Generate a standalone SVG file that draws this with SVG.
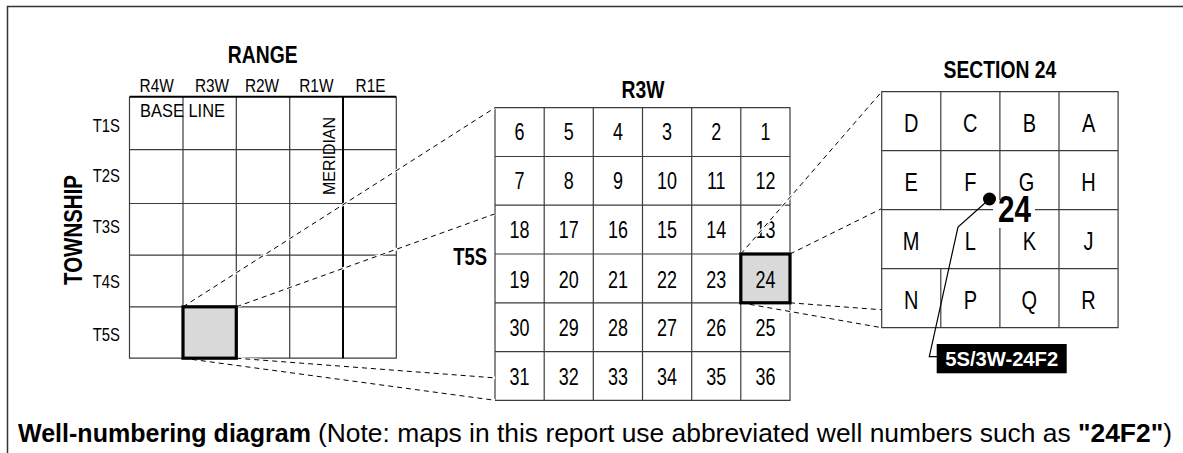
<svg xmlns="http://www.w3.org/2000/svg" width="1183" height="453" viewBox="0 0 1183 453">
  <style>
    text { font-family: "Liberation Sans", Arial, sans-serif; fill: #000; }
    /* condensed look: each label is narrowed about its own anchor */
    .cc { transform-box: fill-box; transform-origin: center; }
    .cr { transform-box: fill-box; transform-origin: right center; }
    .hd { font-size: 23px; font-weight: bold; text-anchor: middle; transform: scaleX(0.84); }
    .rl { font-size: 17.5px; text-anchor: middle; transform: scaleX(0.88); }
    .tl { font-size: 17.5px; text-anchor: end; transform: scaleX(0.85); }
    .num { font-size: 23px; text-anchor: middle; transform: scaleX(0.78); }
    .let { font-size: 25px; text-anchor: middle; transform: scaleX(0.8); }
    .cap { font-size: 25px; }
    .grid { stroke: #3c3c3c; stroke-width: 1.2; fill: none; }
    .heavy { stroke: #000; stroke-width: 2; fill: none; }
    .sel { fill: #d9d9d9; stroke: #000; stroke-width: 3.2; }
    .dash { stroke: #000; stroke-width: 1; stroke-dasharray: 5 4; fill: none; }
    .halo { stroke: #fff; stroke-width: 2.6; fill: none; }
  </style>

  <!-- page frame -->
  <path d="M7.5,453 V6.5 H1183" fill="none" stroke="#333" stroke-width="1.5"/>

  <!-- township / range grid -->
  <g id="township-grid">
    <text class="hd cc" x="262.7" y="63">RANGE</text>
    <text class="rl cc" x="156.7" y="91.7">R4W</text>
    <text class="rl cc" x="212" y="91.7">R3W</text>
    <text class="rl cc" x="262" y="91.7">R2W</text>
    <text class="rl cc" x="316.3" y="91.7">R1W</text>
    <text class="rl cc" x="370.5" y="91.7">R1E</text>
    <text class="tl cr" x="120" y="131.7">T1S</text>
    <text class="tl cr" x="120" y="182.5">T2S</text>
    <text class="tl cr" x="120" y="233.3">T3S</text>
    <text class="tl cr" x="120" y="288.3">T4S</text>
    <text class="tl cr" x="120" y="341">T5S</text>
    <text transform="translate(81.7,230) rotate(-90)" x="0" y="0" font-size="25" font-weight="bold" text-anchor="middle" textLength="110" lengthAdjust="spacingAndGlyphs">TOWNSHIP</text>
    <path class="grid" d="M129.5,96.7 V358.2 H396.3 V96.7 M183,96.7 V358.2 M236.3,96.7 V358.2 M289.7,96.7 V358.2 M129.5,149.7 H396.3 M129.5,203.5 H396.3 M129.5,255.2 H396.3 M129.5,306.8 H396.3"/>
    <!-- base line and meridian -->
    <path class="heavy" d="M129.5,96.7 H396.3 M343,96.7 V358.2"/>
    <text x="140" y="117" font-size="18" textLength="85" lengthAdjust="spacingAndGlyphs">BASE LINE</text>
    <text transform="translate(335,156) rotate(-90)" x="0" y="0" font-size="16.5" text-anchor="middle" textLength="78" lengthAdjust="spacingAndGlyphs">MERIDIAN</text>
  </g>

  <!-- township T5S R3W, 36 sections -->
  <g id="township-sections">
    <text class="hd cc" x="643" y="98.3">R3W</text>
    <text class="cr" x="487" y="265" font-size="23" font-weight="bold" text-anchor="end" style="transform: scaleX(0.8)">T5S</text>
    <path class="grid" d="M495,107.7 H790 V400.3 H495 Z M544.2,107.7 V400.3 M593.3,107.7 V400.3 M642.5,107.7 V400.3 M691.7,107.7 V400.3 M740.8,107.7 V400.3 M495,156.5 H790 M495,205.2 H790 M495,254 H790 M495,302.8 H790 M495,351.6 H790"/>
    <g class="section-numbers">
      <text class="num cc" x="519.6" y="140.3">6</text>
      <text class="num cc" x="568.8" y="140.3">5</text>
      <text class="num cc" x="617.9" y="140.3">4</text>
      <text class="num cc" x="667.1" y="140.3">3</text>
      <text class="num cc" x="716.3" y="140.3">2</text>
      <text class="num cc" x="765.4" y="140.3">1</text>
      <text class="num cc" x="519.6" y="189.1">7</text>
      <text class="num cc" x="568.8" y="189.1">8</text>
      <text class="num cc" x="617.9" y="189.1">9</text>
      <text class="num cc" x="667.1" y="189.1">10</text>
      <text class="num cc" x="716.3" y="189.1">11</text>
      <text class="num cc" x="765.4" y="189.1">12</text>
      <text class="num cc" x="519.6" y="237.8">18</text>
      <text class="num cc" x="568.8" y="237.8">17</text>
      <text class="num cc" x="617.9" y="237.8">16</text>
      <text class="num cc" x="667.1" y="237.8">15</text>
      <text class="num cc" x="716.3" y="237.8">14</text>
      <text class="num cc" x="765.4" y="237.8">13</text>
      <text class="num cc" x="519.6" y="287.6">19</text>
      <text class="num cc" x="568.8" y="287.6">20</text>
      <text class="num cc" x="617.9" y="287.6">21</text>
      <text class="num cc" x="667.1" y="287.6">22</text>
      <text class="num cc" x="716.3" y="287.6">23</text>
      <text class="num cc" x="519.6" y="336.4">30</text>
      <text class="num cc" x="568.8" y="336.4">29</text>
      <text class="num cc" x="617.9" y="336.4">28</text>
      <text class="num cc" x="667.1" y="336.4">27</text>
      <text class="num cc" x="716.3" y="336.4">26</text>
      <text class="num cc" x="765.4" y="336.4">25</text>
      <text class="num cc" x="519.6" y="385.2">31</text>
      <text class="num cc" x="568.8" y="385.2">32</text>
      <text class="num cc" x="617.9" y="385.2">33</text>
      <text class="num cc" x="667.1" y="385.2">34</text>
      <text class="num cc" x="716.3" y="385.2">35</text>
      <text class="num cc" x="765.4" y="385.2">36</text>
    </g>
  </g>

  <!-- projection lines between the three scales -->
  <g id="connectors">
    <path class="halo" d="M183,306.8 L495,107.7 M236.3,306.8 L495,213.8 M183,358.2 L495,400.3 M236.3,358.2 L495,377.9 M740.8,254 L881.7,91.7 M790,254 L881.7,208.6 M740.8,302.8 L881.7,327.7 M790,302.8 L881.7,309.8"/>
    <path class="dash" d="M183,306.8 L495,107.7 M236.3,306.8 L495,213.8 M183,358.2 L495,400.3 M236.3,358.2 L495,377.9 M740.8,254 L881.7,91.7 M790,254 L881.7,208.6 M740.8,302.8 L881.7,327.7 M790,302.8 L881.7,309.8"/>
  </g>

  <!-- highlighted township and section -->
  <g id="township-t5s-r3w">
    <rect class="sel" x="183" y="306.8" width="53.3" height="51.4"/>
  </g>
  <g id="section-24-cell">
    <rect class="sel" x="740.8" y="254" width="49.2" height="48.8"/>
    <text class="num cc" x="765.4" y="287.6">24</text>
  </g>

  <!-- section 24 divided into 40-acre tracts -->
  <g id="section-24">
    <text class="hd cc" x="999.9" y="78.3">SECTION 24</text>
    <path class="grid" stroke="#555" d="M881.7,91.7 H1118.1 V327.7 H881.7 Z M940.8,91.7 V209.7 M940.8,268.7 V327.7 M999.9,91.7 V200 M999.9,228 V327.7 M1059,91.7 V327.7 M881.7,150.7 H1118.1 M881.7,209.7 H993 M1035,209.7 H1118.1 M881.7,268.7 H1118.1"/>
    <text class="let cc" x="911.2" y="131.7">D</text>
    <text class="let cc" x="970.3" y="131.7">C</text>
    <text class="let cc" x="1029.4" y="131.7">B</text>
    <text class="let cc" x="1088.5" y="131.7">A</text>
    <text class="let cc" x="911.2" y="190.7">E</text>
    <text class="let cc" x="970.3" y="190.7">F</text>
    <text class="let cc" x="1026.5" y="190.7">G</text>
    <text class="let cc" x="1088.5" y="190.7">H</text>
    <text class="let cc" x="911.2" y="250">M</text>
    <text class="let cc" x="970.3" y="250">L</text>
    <text class="let cc" x="1029.4" y="250">K</text>
    <text class="let cc" x="1088.5" y="250">J</text>
    <text class="let cc" x="911.2" y="309.5">N</text>
    <text class="let cc" x="970.3" y="309.5">P</text>
    <text class="let cc" x="1029.4" y="309.5">Q</text>
    <text class="let cc" x="1088.5" y="309.5">R</text>
  </g>

  <!-- well location and its number -->
  <g id="well-24F2">
    <text x="998" y="221.7" font-size="36" font-weight="bold" textLength="33" lengthAdjust="spacingAndGlyphs">24</text>
    <polyline points="989.5,199 958,227 929.3,356.7 937,356.7" fill="none" stroke="#000" stroke-width="1.2"/>
    <circle cx="989.5" cy="199" r="6.5" fill="#000"/>
    <rect x="936.7" y="344" width="130" height="29.3" fill="#000"/>
    <text x="1001.7" y="365.7" font-size="20" font-weight="bold" text-anchor="middle" textLength="113" lengthAdjust="spacingAndGlyphs" style="fill:#fff">5S/3W-24F2</text>
  </g>

  <!-- caption -->
  <g id="caption">
    <text class="cap" x="18" y="442" font-weight="bold" textLength="293" lengthAdjust="spacingAndGlyphs">Well-numbering diagram</text>
    <text class="cap" x="318" y="442" textLength="854" lengthAdjust="spacingAndGlyphs">(Note: maps in this report use abbreviated well numbers such as <tspan font-weight="bold">"24F2"</tspan>)</text>
  </g>
</svg>
